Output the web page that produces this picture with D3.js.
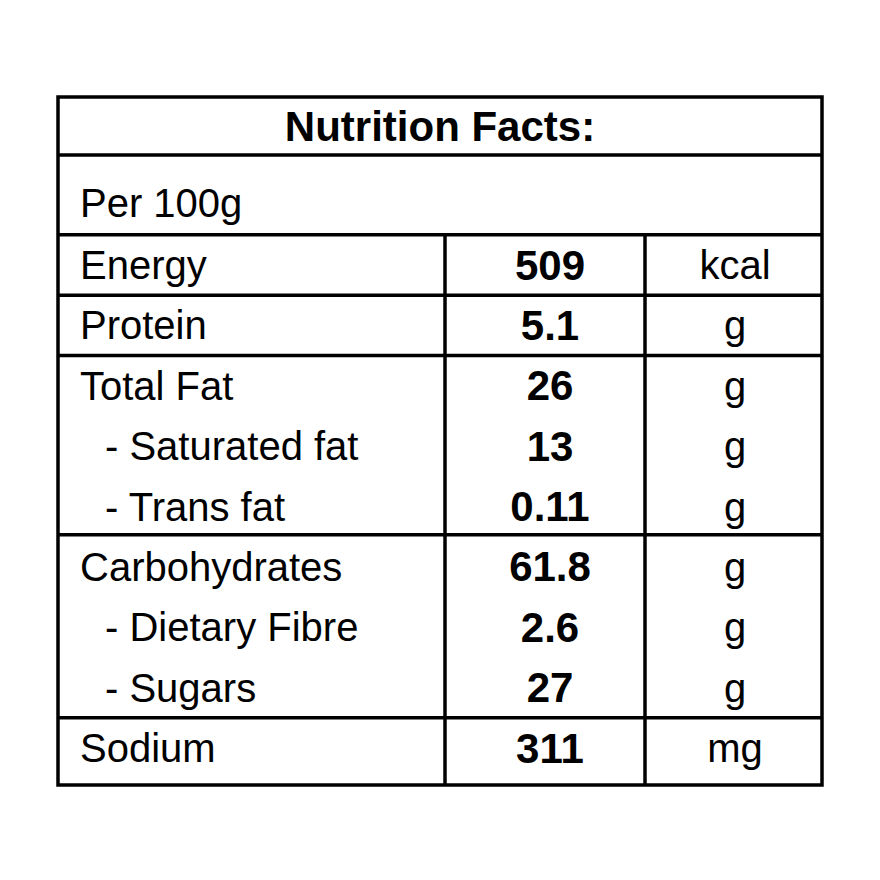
<!DOCTYPE html>
<html><head><meta charset="utf-8">
<script src="https://cdn.jsdelivr.net/npm/d3@7"></script>
<style>body{margin:0;background:#fff}</style></head>
<body><svg id="c" width="880" height="880"></svg>
<script>
const title = "Nutrition Facts:";
const basis = "Per 100g";
const labels = ["Energy","Protein","Total Fat","- Saturated fat","- Trans fat","Carbohydrates","- Dietary Fibre","- Sugars","Sodium"];
const values = ["509","5.1","26","13","0.11","61.8","2.6","27","311"];
const units = ["kcal","g","g","g","g","g","g","g","mg"];
const groups = [[0],[1],[2,3,4],[5,6,7],[8]];

const svg = d3.select("#c");
const L=58,R=822,T=97,B=785;
const colX = [58,445,645,822];
const y = d3.scalePoint().domain(d3.range(labels.length)).range([265,748]);
const step = y.step();
const font = "'Liberation Sans', Arial, sans-serif";
const line=(x1,y1,x2,y2)=>svg.append("line").attr("x1",x1).attr("y1",y1).attr("x2",x2).attr("y2",y2).attr("stroke","#000").attr("stroke-width",3.5);

svg.append("rect").attr("x",L).attr("y",T).attr("width",R-L).attr("height",B-T).attr("fill","none").attr("stroke","#000").attr("stroke-width",3.5);
line(L,155,R,155);
const top0 = y(0)-step/2;
line(L,top0,R,top0);
groups.forEach((g,i)=>{ if(i>0){ const yy=y(g[0])-step/2+ (i===3?-2:0); line(L,yy,R,yy);} });
line(colX[1],top0,colX[1],B); line(colX[2],top0,colX[2],B);

svg.append("text").attr("x",(L+R)/2).attr("y",126).attr("text-anchor","middle").attr("dominant-baseline","central")
 .attr("font-family",font).attr("font-weight","bold").attr("font-size",42).text(title);
svg.append("text").attr("x",80).attr("y",203).attr("dominant-baseline","central")
 .attr("font-family",font).attr("font-size",40).text(basis);
labels.forEach((d,i)=>{
  svg.append("text").attr("x",d.startsWith("-")?105:80).attr("y",y(i)).attr("dominant-baseline","central")
   .attr("font-family",font).attr("font-size",40).text(d);
  svg.append("text").attr("x",550).attr("y",y(i)).attr("text-anchor","middle").attr("dominant-baseline","central")
   .attr("font-family",font).attr("font-weight","bold").attr("font-size",42).text(values[i]);
  svg.append("text").attr("x",735).attr("y",y(i)).attr("text-anchor","middle").attr("dominant-baseline","central")
   .attr("font-family",font).attr("font-size",40).text(units[i]);
});
</script></body></html>
